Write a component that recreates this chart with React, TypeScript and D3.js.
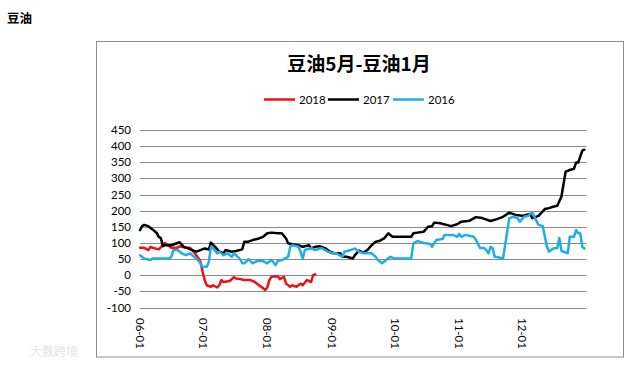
import React from 'react';
import * as d3 from 'd3';

// 豆油5月-豆油1月 spread, one line per year
const s2018: [string, number][] = [
  ['06-01', 85], ['06-03', 85], ['06-05', 78], ['06-06', 88], ['06-07', 85], ['06-10', 80],
  ['06-12', 93], ['06-13', 100], ['06-16', 85], ['06-19', 85], ['06-20', 90], ['06-23', 85],
  ['06-25', 85], ['06-26', 78], ['06-28', 62], ['06-30', 42], ['07-01', 11], ['07-02', -15],
  ['07-03', -31], ['07-05', -36], ['07-06', -31], ['07-08', -38], ['07-09', -31], ['07-10', -15],
  ['07-11', -21], ['07-14', -18], ['07-16', -6], ['07-17', -10], ['07-19', -12], ['07-21', -15],
  ['07-24', -15], ['07-26', -21], ['07-28', -31], ['07-30', -40], ['07-31', -46], ['08-01', -38],
  ['08-02', -15], ['08-03', -5], ['08-06', -3], ['08-07', -12], ['08-09', -5], ['08-10', -26],
  ['08-12', -36], ['08-13', -31], ['08-15', -36], ['08-17', -26], ['08-18', -31], ['08-20', -15],
  ['08-22', -21], ['08-23', 0], ['08-24', 3],
];

const s2017: [string, number][] = [
  ['06-01', 140], ['06-02', 152], ['06-03', 156], ['06-05', 152], ['06-07', 142], ['06-09', 131],
  ['06-10', 119], ['06-11', 115], ['06-12', 90], ['06-13', 93], ['06-16', 93], ['06-19', 100],
  ['06-20', 102], ['06-22', 88], ['06-24', 83], ['06-26', 78], ['06-28', 73], ['06-30', 78],
  ['07-02', 83], ['07-04', 80], ['07-05', 101], ['07-07', 88], ['07-09', 73], ['07-11', 68],
  ['07-12', 78], ['07-15', 73], ['07-17', 75], ['07-20', 80], ['07-21', 104], ['07-23', 104],
  ['07-25', 109], ['07-28', 114], ['07-30', 119], ['08-01', 130], ['08-03', 132], ['08-06', 130],
  ['08-08', 130], ['08-10', 114], ['08-11', 99], ['08-13', 96], ['08-16', 93], ['08-18', 88],
  ['08-21', 93], ['08-22', 83], ['08-24', 88], ['08-26', 90], ['08-29', 83], ['08-31', 73],
  ['09-02', 68], ['09-05', 68], ['09-06', 57], ['09-08', 57], ['09-11', 52], ['09-12', 62],
  ['09-14', 76], ['09-16', 70], ['09-18', 78], ['09-20', 93], ['09-22', 104], ['09-24', 107],
  ['09-26', 114], ['09-28', 130], ['09-30', 119], ['10-03', 119], ['10-09', 119], ['10-10', 130],
  ['10-12', 132], ['10-15', 135], ['10-17', 150], ['10-19', 152], ['10-20', 163], ['10-23', 161],
  ['10-24', 159], ['10-26', 156], ['10-28', 152], ['10-31', 158], ['11-02', 166], ['11-06', 169],
  ['11-09', 180], ['11-12', 177], ['11-16', 168], ['11-19', 174], ['11-22', 181], ['11-25', 194],
  ['11-28', 187], ['12-01', 184], ['12-05', 190], ['12-06', 177], ['12-09', 184], ['12-12', 205],
  ['12-14', 208], ['12-16', 212], ['12-18', 215], ['12-20', 244], ['12-22', 321], ['12-24', 326],
  ['12-26', 330], ['12-27', 349], ['12-28', 349], ['12-30', 386], ['12-31', 389],
];

const s2016: [string, number][] = [
  ['06-01', 62], ['06-03', 52], ['06-06', 47], ['06-07', 52], ['06-15', 52], ['06-16', 57],
  ['06-17', 78], ['06-19', 78], ['06-21', 68], ['06-23', 62], ['06-25', 68], ['06-26', 62],
  ['06-28', 52], ['06-30', 37], ['07-01', 26], ['07-03', 26], ['07-04', 42], ['07-05', 88],
  ['07-06', 84], ['07-08', 68], ['07-09', 73], ['07-11', 62], ['07-13', 68], ['07-15', 57],
  ['07-16', 68], ['07-19', 50], ['07-20', 37], ['07-21', 37], ['07-23', 50], ['07-25', 37],
  ['07-27', 44], ['07-30', 44], ['08-01', 37], ['08-03', 47], ['08-05', 31], ['08-06', 44],
  ['08-08', 47], ['08-11', 57], ['08-12', 88], ['08-13', 93], ['08-16', 88], ['08-17', 72],
  ['08-18', 52], ['08-19', 78], ['08-22', 84], ['08-24', 78], ['08-27', 84], ['08-30', 73],
  ['09-01', 68], ['09-03', 68], ['09-06', 57], ['09-07', 73], ['09-10', 78], ['09-12', 83],
  ['09-14', 73], ['09-16', 68], ['09-20', 68], ['09-22', 57], ['09-23', 47], ['09-25', 37],
  ['09-27', 47], ['09-29', 57], ['10-01', 52], ['10-09', 52], ['10-10', 99], ['10-12', 106],
  ['10-13', 104], ['10-15', 100], ['10-16', 99], ['10-18', 97], ['10-19', 88], ['10-21', 109],
  ['10-24', 112], ['10-25', 125], ['10-29', 125], ['10-31', 119], ['11-01', 128], ['11-02', 119],
  ['11-04', 125], ['11-08', 119], ['11-09', 109], ['11-11', 84], ['11-13', 84], ['11-14', 78],
  ['11-15', 68], ['11-16', 88], ['11-17', 84], ['11-18', 57], ['11-20', 55], ['11-22', 52],
  ['11-23', 93], ['11-25', 177], ['11-27', 181], ['11-29', 177], ['11-30', 166], ['12-02', 181],
  ['12-04', 184], ['12-06', 194], ['12-07', 181], ['12-09', 156], ['12-11', 153], ['12-13', 90],
  ['12-14', 73], ['12-16', 83], ['12-18', 84], ['12-19', 115], ['12-20', 75], ['12-23', 68],
  ['12-24', 119], ['12-26', 119], ['12-27', 140], ['12-28', 130], ['12-29', 130], ['12-30', 88],
  ['12-31', 83],
];

const seriesNames = ['2018', '2017', '2016'];
const yTicks = [-100, -50, 0, 50, 100, 150, 200, 250, 300, 350, 400, 450];
const xTickLabels = ['06-01', '07-01', '08-01', '09-01', '10-01', '11-01', '12-01'];

const colors = ['#ee1111', '#000000', '#1eaee6'];
const tickFont = 'Lato, "Open Sans", sans-serif';
const cjkFont = '"Noto Sans CJK SC", "Noto Sans", sans-serif';

const parse = d3.timeParse('%m-%d');

export default function App() {
  const x = d3.scaleTime()
    .domain([parse('06-01') as Date, d3.timeDay.offset(parse('12-31') as Date, 1)])
    .range([140, 586.5]);
  const y = d3.scaleLinear().domain([-100, 450]).range([307.5, 130]);

  const line = d3.line<[string, number]>()
    .x(d => x(parse(d[0]) as Date))
    .y(d => y(d[1]));

  const series = [s2018, s2017, s2016];

  // legend layout (line + label), centred under the title
  const legendX = [264, 328, 393];

  return (
    <svg width={635} height={366} style={{ position: 'absolute', left: 0, top: 0, background: '#fff' }}>
      <text x={7} y={23} fontFamily={cjkFont} fontWeight="bold" fontSize={12.5} fill="#000">豆油</text>

      <rect x={96.5} y={41.5} width={527} height={315.5} fill="#fff" stroke="#8c8c8c" strokeWidth={1} />

      <text x={359} y={71} textAnchor="middle" fontFamily={cjkFont} fontWeight="bold" fontSize={19} fill="#000">
        豆油5月-豆油1月
      </text>

      {seriesNames.map((name, i) => (
        <g key={name}>
          <line x1={legendX[i]} x2={legendX[i] + 31} y1={99.5} y2={99.5} stroke={colors[i]} strokeWidth={2.5} />
          <text x={legendX[i] + 35} y={103.5} fontFamily={tickFont} fontSize={11.5} fill="#000">{name}</text>
        </g>
      ))}

      {yTicks.map(t => (
        <g key={t}>
          <line x1={140} x2={586.5} y1={Math.round(y(t)) + 0.5} y2={Math.round(y(t)) + 0.5} stroke="#8c8c8c" strokeWidth={1} />
          <text x={131} y={y(t) + 4} textAnchor="end" fontFamily={tickFont} fontSize={11.5} fill="#000">{t}</text>
        </g>
      ))}

      {xTickLabels.map(t => {
        const px = x(parse(t) as Date);
        return (
          <text key={t} transform={`translate(${px},318) rotate(90)`} dy="0.35em"
            fontFamily={tickFont} fontSize={11.5} fill="#000">{t}</text>
        );
      })}

      {series.map((s, i) => (
        <path key={seriesNames[i]} d={line(s) || ''} fill="none" stroke={colors[i]}
          strokeWidth={2.5} strokeLinejoin="round" strokeLinecap="round" />
      ))}

      <text x={30} y={356} fontFamily={cjkFont} fontSize={12} fill="#e4e4e4">大数跨境</text>
    </svg>
  );
}
